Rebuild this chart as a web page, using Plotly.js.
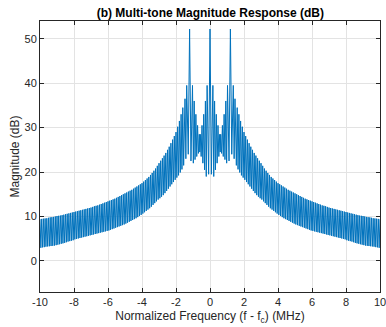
<!DOCTYPE html>
<html>
<head>
<meta charset="utf-8">
<script src="https://cdn.plot.ly/plotly-3.0.1.min.js"></script>
<style>html,body{margin:0;padding:0;background:#fff;}#chart{width:386px;height:327px;}</style>
</head>
<body>
<div id="chart"></div>
<script>
// Frequency samples (MHz): left skirt, tone region, right skirt (peaks and troughs alternate)
var freqLeft = [
-10.0,-9.95,-9.9,-9.85,-9.8,-9.75,-9.7,-9.65,-9.6,-9.55,
-9.5,-9.45,-9.4,-9.35,-9.3,-9.25,-9.2,-9.15,-9.1,-9.05,
-9.0,-8.95,-8.9,-8.85,-8.8,-8.75,-8.7,-8.65,-8.6,-8.55,
-8.5,-8.45,-8.4,-8.35,-8.3,-8.25,-8.2,-8.15,-8.1,-8.05,
-8.0,-7.95,-7.9,-7.85,-7.8,-7.75,-7.7,-7.65,-7.6,-7.55,
-7.5,-7.45,-7.4,-7.35,-7.3,-7.25,-7.2,-7.15,-7.1,-7.05,
-7.0,-6.95,-6.9,-6.85,-6.8,-6.75,-6.7,-6.65,-6.6,-6.55,
-6.5,-6.45,-6.4,-6.35,-6.3,-6.25,-6.2,-6.15,-6.1,-6.05,
-6.0,-5.95,-5.9,-5.85,-5.8,-5.75,-5.7,-5.65,-5.6,-5.55,
-5.5,-5.45,-5.4,-5.35,-5.3,-5.25,-5.2,-5.15,-5.1,-5.05,
-5.0,-4.95,-4.9,-4.85,-4.8,-4.75,-4.7,-4.65,-4.6,-4.55,
-4.5,-4.45,-4.4,-4.35,-4.3,-4.25,-4.2,-4.15,-4.1,-4.05,
-4.0,-3.95,-3.9,-3.85,-3.8,-3.75,-3.7,-3.65,-3.6,-3.55,
-3.5,-3.45,-3.4,-3.35,-3.3,-3.25,-3.2,-3.15,-3.1,-3.05,
-3.0,-2.95,-2.9,-2.85,-2.8,-2.75,-2.7,-2.65,-2.6,-2.55,
-2.5,-2.45,-2.4,-2.35,-2.3,-2.25,-2.2,-2.15,-2.1,-2.05,
-2.0,-1.95,-1.9,-1.85,-1.8,-1.75,-1.7,-1.65,-1.6
];
var magLeft = [
9.4,2.95,9.45,3.05,9.5,3.1,9.55,3.2,9.6,3.25,
9.7,3.3,9.8,3.35,9.85,3.4,9.9,3.45,10.0,3.55,
10.1,3.65,10.15,3.75,10.2,3.85,10.3,3.95,10.4,4.05,
10.5,4.2,10.6,4.35,10.7,4.45,10.8,4.55,10.9,4.65,
11.0,4.85,11.1,4.95,11.2,5.05,11.3,5.15,11.4,5.25,
11.5,5.35,11.6,5.45,11.7,5.55,11.8,5.65,11.9,5.75,
12.0,5.85,12.15,5.95,12.3,6.05,12.4,6.15,12.5,6.25,
12.65,6.35,12.8,6.45,12.95,6.55,13.1,6.65,13.25,6.75,
13.4,6.85,13.55,7.0,13.7,7.15,13.85,7.3,14.0,7.45,
14.2,7.6,14.4,7.75,14.6,7.9,14.8,8.05,15.0,8.2,
15.2,8.4,15.4,8.6,15.6,8.8,15.8,9.0,16.0,9.2,
16.25,9.4,16.5,9.6,16.75,9.85,17.0,10.1,17.25,10.35,
17.5,10.65,17.85,10.95,18.2,11.25,18.55,11.55,18.9,11.85,
19.35,12.2,19.8,12.6,20.3,13.0,20.8,13.4,21.4,13.8,
22.0,14.1,22.55,14.45,23.1,14.8,23.7,15.25,24.3,15.75,
25.0,16.25,25.7,16.75,26.5,17.25,27.3,17.75,28.1,18.25,
29.0,18.75,30.2,19.25,31.5,19.9,33.0,20.6,34.5
];
var freqTones = [
-1.55,-1.47,-1.42,-1.37,-1.28,-1.2,-1.12,-1.03,-0.98,-0.93,
-0.88,-0.83,-0.78,-0.73,-0.68,-0.63,-0.6,-0.57,-0.52,-0.47,
-0.42,-0.37,-0.32,-0.27,-0.22,-0.17,-0.08,0.0,0.08,0.17,
0.22,0.27,0.32,0.37,0.42,0.47,0.52,0.57,0.6,0.63,
0.68,0.73,0.78,0.83,0.88,0.93,0.98,1.03,1.12,1.2,
1.28,1.37,1.42,1.47,1.55
];
var magTones = [
21.5,36.5,23.0,39.5,24.0,52.2,22.5,39.5,22.0,36.0,
22.8,33.0,23.5,30.5,24.2,28.5,24.5,28.5,23.5,30.5,
22.0,33.0,20.5,36.0,19.0,39.5,19.5,52.2,19.5,39.5,
19.0,36.0,20.5,33.0,22.0,30.5,23.5,28.5,24.5,28.5,
24.2,30.5,23.5,33.0,22.8,36.0,22.0,39.5,22.5,52.2,
24.0,39.5,23.0,36.5,21.5
];
var freqRight = [
1.6,1.65,1.7,1.75,1.8,1.85,1.9,1.95,2.0,2.05,
2.1,2.15,2.2,2.25,2.3,2.35,2.4,2.45,2.5,2.55,
2.6,2.65,2.7,2.75,2.8,2.85,2.9,2.95,3.0,3.05,
3.1,3.15,3.2,3.25,3.3,3.35,3.4,3.45,3.5,3.55,
3.6,3.65,3.7,3.75,3.8,3.85,3.9,3.95,4.0,4.05,
4.1,4.15,4.2,4.25,4.3,4.35,4.4,4.45,4.5,4.55,
4.6,4.65,4.7,4.75,4.8,4.85,4.9,4.95,5.0,5.05,
5.1,5.15,5.2,5.25,5.3,5.35,5.4,5.45,5.5,5.55,
5.6,5.65,5.7,5.75,5.8,5.85,5.9,5.95,6.0,6.05,
6.1,6.15,6.2,6.25,6.3,6.35,6.4,6.45,6.5,6.55,
6.6,6.65,6.7,6.75,6.8,6.85,6.9,6.95,7.0,7.05,
7.1,7.15,7.2,7.25,7.3,7.35,7.4,7.45,7.5,7.55,
7.6,7.65,7.7,7.75,7.8,7.85,7.9,7.95,8.0,8.05,
8.1,8.15,8.2,8.25,8.3,8.35,8.4,8.45,8.5,8.55,
8.6,8.65,8.7,8.75,8.8,8.85,8.9,8.95,9.0,9.05,
9.1,9.15,9.2,9.25,9.3,9.35,9.4,9.45,9.5,9.55,
9.6,9.65,9.7,9.75,9.8,9.85,9.9,9.95,10.0
];
var magRight = [
34.5,20.6,33.0,19.9,31.5,19.25,30.2,18.75,29.0,18.25,
28.1,17.75,27.3,17.25,26.5,16.75,25.7,16.25,25.0,15.75,
24.3,15.25,23.7,14.8,23.1,14.45,22.55,14.1,22.0,13.8,
21.4,13.4,20.8,13.0,20.3,12.6,19.8,12.2,19.35,11.85,
18.9,11.55,18.55,11.25,18.2,10.95,17.85,10.65,17.5,10.35,
17.25,10.1,17.0,9.85,16.75,9.6,16.5,9.4,16.25,9.2,
16.0,9.0,15.8,8.8,15.6,8.6,15.4,8.4,15.2,8.2,
15.0,8.05,14.8,7.9,14.6,7.75,14.4,7.6,14.2,7.45,
14.0,7.3,13.85,7.15,13.7,7.0,13.55,6.85,13.4,6.75,
13.25,6.65,13.1,6.55,12.95,6.45,12.8,6.35,12.65,6.25,
12.5,6.15,12.4,6.05,12.3,5.95,12.15,5.85,12.0,5.75,
11.9,5.65,11.8,5.55,11.7,5.45,11.6,5.35,11.5,5.25,
11.4,5.15,11.3,5.05,11.2,4.95,11.1,4.85,11.0,4.65,
10.9,4.55,10.8,4.45,10.7,4.35,10.6,4.2,10.5,4.05,
10.4,3.95,10.3,3.85,10.2,3.75,10.15,3.65,10.1,3.55,
10.0,3.45,9.9,3.4,9.85,3.35,9.8,3.3,9.7,3.25,
9.6,3.2,9.55,3.1,9.5,3.05,9.45,2.95,9.4
];
var xTicks = [-10,-8,-6,-4,-2,0,2,4,6,8,10];
var yTicks = [0,10,20,30,40,50];

var trace = {
  x: freqLeft.concat(freqTones, freqRight),
  y: magLeft.concat(magTones, magRight),
  type: 'scatter', mode: 'lines',
  line: {color: '#0072BD', width: 1}, hoverinfo: 'none'
};
var fnt = 'Liberation Sans, Arial, sans-serif';
var axisCommon = {
  showline: true, mirror: 'ticks', linecolor: '#262626', linewidth: 1,
  ticks: 'inside', ticklen: 4, tickcolor: '#262626',
  showgrid: true, gridcolor: '#e3e3e3', gridwidth: 1, zeroline: false,
  ticklabeloverflow: 'allow',
  tickfont: {family: fnt, size: 11, color: '#262626'}
};
var layout = {
  width: 386, height: 327,
  margin: {l: 40, r: 6, t: 21, b: 35},
  paper_bgcolor: '#ffffff', plot_bgcolor: '#ffffff',
  showlegend: false,
  title: {text: '<b>(b) Multi-tone Magnitude Response (dB)</b>',
    font: {family: fnt, size: 12, color: '#000'},
    x: 0.545, xanchor: 'center', y: 0.962, yanchor: 'middle'},
  xaxis: Object.assign({}, axisCommon, {
    range: [-10, 10], tickvals: xTicks, ticktext: xTicks.map(String),
    title: {text: 'Normalized Frequency (f - f<sub>c</sub>) (MHz)', standoff: 4,
      font: {family: fnt, size: 12, color: '#262626'}}
  }),
  yaxis: Object.assign({}, axisCommon, {
    range: [-7, 54], tickvals: yTicks, ticktext: yTicks.map(String),
    title: {text: 'Magnitude (dB)', standoff: 2,
      font: {family: fnt, size: 12, color: '#262626'}}
  })
};
Plotly.newPlot('chart', [trace], layout, {displayModeBar: false, staticPlot: true});
</script>
</body>
</html>
